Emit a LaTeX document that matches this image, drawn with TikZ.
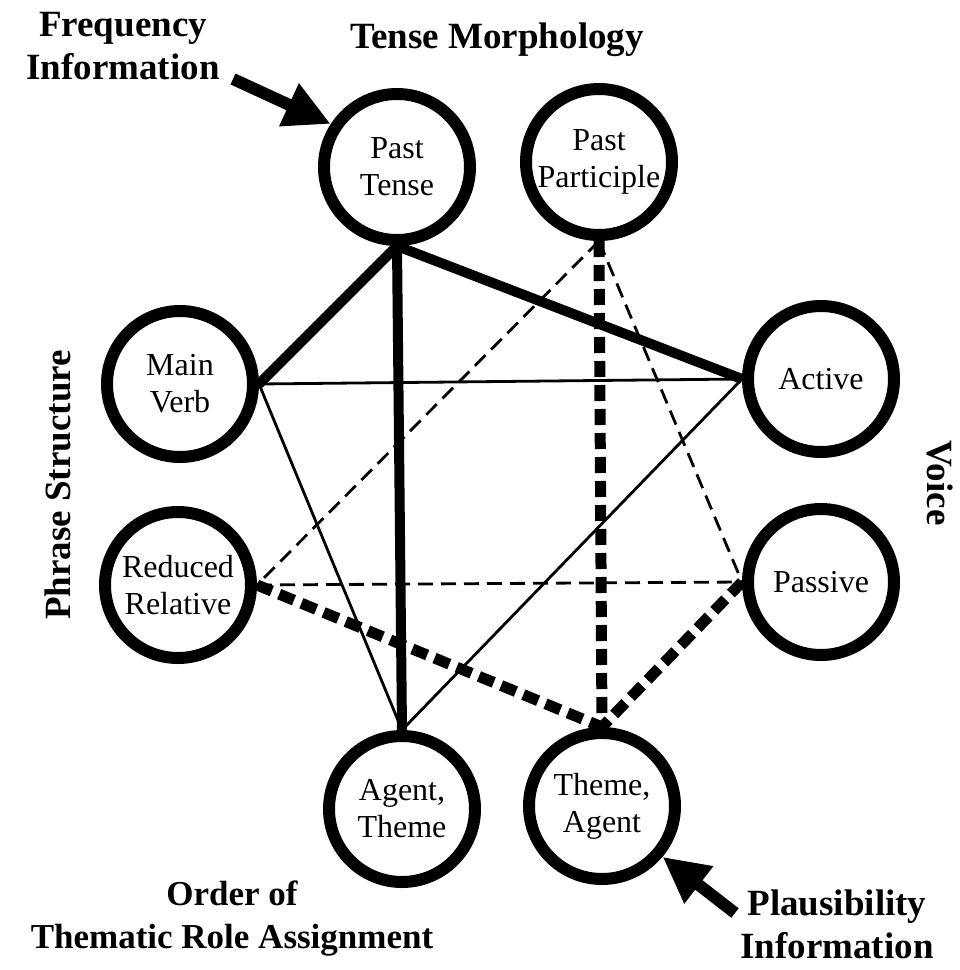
\documentclass[tikz,border=0pt]{standalone}
\usepackage{fontspec}
\setmainfont{Liberation Serif}
\usetikzlibrary{arrows.meta}

\begin{document}
\begin{tikzpicture}[x=1pt,y=-1pt,
  state/.style={circle, draw, line width=12pt, minimum size=146pt, inner sep=0pt,
    align=center, font=\fontsize{32}{37}\selectfont},
  heading/.style={inner sep=0pt, align=center, font=\bfseries\fontsize{37}{43}\selectfont},
  strong/.style={line width=10pt},
  weak/.style={line width=2.8pt},
  strongdash/.style={line width=11pt, dash pattern=on 16pt off 8pt},
  weakdash/.style={line width=2.8pt, dash pattern=on 15pt off 8pt},
  bigarrow/.style={line width=12pt, -{Triangle[length=46pt,width=44pt]}}
]
\useasboundingbox (0,0) rectangle (960,970);

% constraint nodes
\node[state] (pt) at (397,167) {Past\\Tense};
\node[state] (pp) at (599,162) {Past\\Participle};
\node[state] (mv) at (180,384) {Main\\Verb};
\node[state] (ac) at (821,379) {Active};
\node[state] (rr) at (178,585) {Reduced\\Relative};
\node[state] (pa) at (821,582) {Passive};
\node[state] (at) at (402,809) {Agent,\\Theme};
\node[state] (ta) at (602,806) {Theme,\\Agent};

% group labels
\node[heading] (freq) at (123,46) {Frequency\\Information};
\node[heading] (tm) at (497,40) {Tense Morphology};
\node[heading, rotate=90] (ps) at (58,485) {Phrase Structure};
\node[heading, rotate=-90] (vo) at (940,483) {Voice};
\node[heading, font=\bfseries\fontsize{35}{43}\selectfont] (ord) at (232,919) {Order of\\Thematic Role Assignment};
\node[heading] (plaus) at (837,924) {Plausibility\\Information};

% main-verb interpretation
\draw[strong] (pt.south) -- (mv.east);
\draw[strong] (pt.south) -- (ac.west);
\draw[strong] (pt.south) -- (at.north);
\draw[weak] (mv.east) -- (ac.west);
\draw[weak] (mv.east) -- (at.north);
\draw[weak] (ac.west) -- (at.north);

% reduced-relative interpretation
\draw[weakdash] (pp.south) -- (rr.east);
\draw[weakdash] (pp.south) -- (pa.west);
\draw[strongdash] (pp.south) -- (ta.north);
\draw[weakdash] (rr.east) -- (pa.west);
\draw[strongdash] (rr.east) -- (ta.north);
\draw[strongdash] (pa.west) -- (ta.north);

% information sources
\coordinate (fa) at (233,79);
\coordinate (pa0) at (735,913);
\draw[bigarrow] (fa) -- (pt.147);
\draw[bigarrow] (pa0) -- (ta.-40);
\end{tikzpicture}
\end{document}
